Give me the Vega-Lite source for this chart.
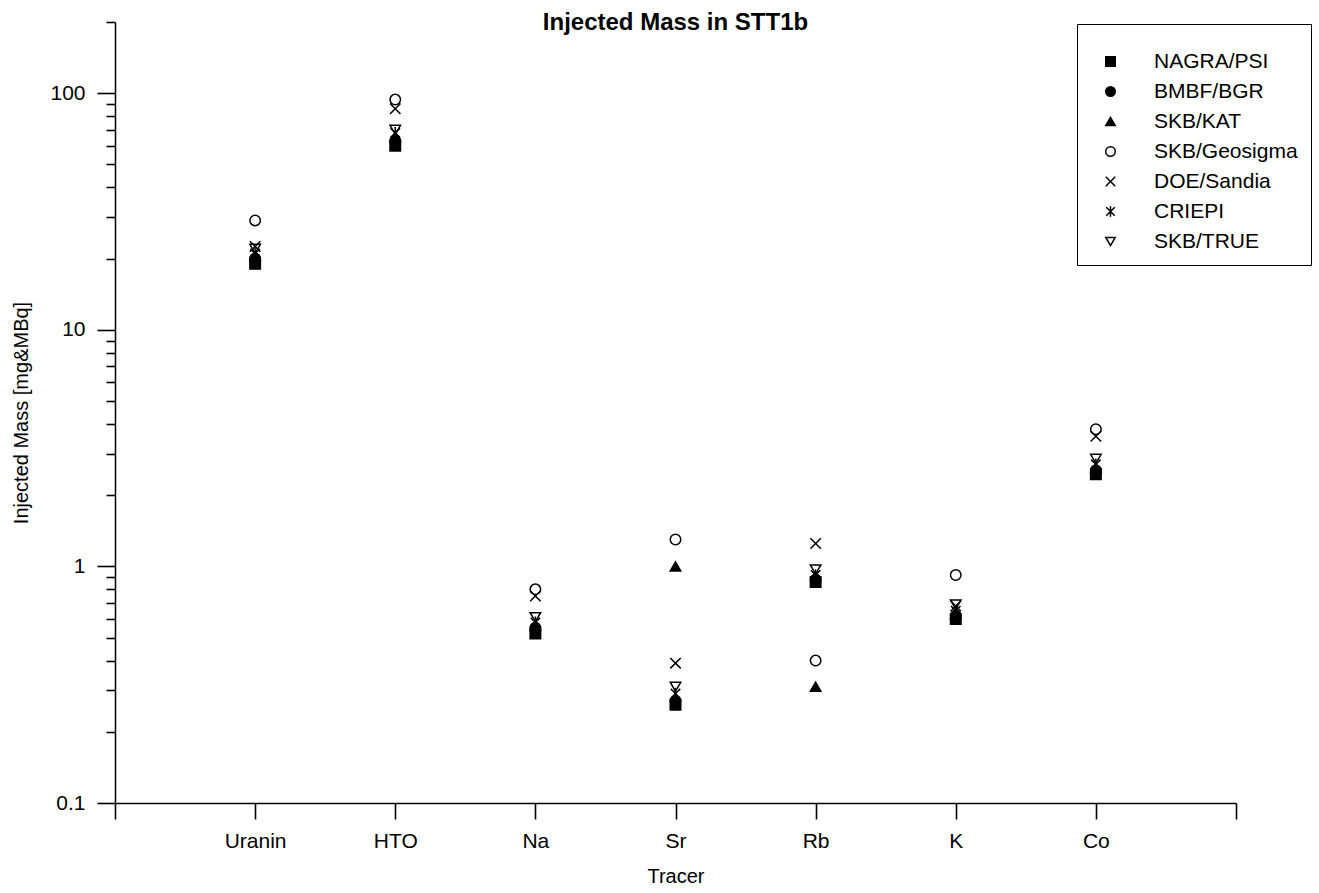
{
  "$schema": "https://vega.github.io/schema/vega-lite/v6.json",
  "width": 1121,
  "height": 781,
  "autosize": "none",
  "padding": {"left": 115, "top": 22, "right": 83, "bottom": 90},
  "background": "white",
  "config": {
    "view": {"stroke": null},
    "font": "Liberation Sans",
    "axis": {
      "domainColor": "black",
      "tickColor": "black",
      "labelColor": "black",
      "titleColor": "black",
      "grid": false,
      "domainWidth": 1.5,
      "tickWidth": 1.6,
      "labelFont": "Liberation Sans",
      "titleFont": "Liberation Sans",
      "titleFontWeight": "normal"
    },
    "legend": {
      "titleFontSize": 6,
      "titlePadding": 8,
      "titleColor": "white"
    }
  },
  "title": {
    "text": "Injected Mass in STT1b",
    "fontSize": 24,
    "fontWeight": "bold",
    "font": "Liberation Sans",
    "anchor": "middle",
    "offset": -24,
    "color": "black"
  },
  "data": {
    "values": [
      {"tracer": "Uranin", "group": "NAGRA/PSI", "mass": 19},
      {"tracer": "Uranin", "group": "BMBF/BGR", "mass": 20},
      {"tracer": "Uranin", "group": "SKB/KAT", "mass": 20.5},
      {"tracer": "Uranin", "group": "SKB/Geosigma", "mass": 29},
      {"tracer": "Uranin", "group": "DOE/Sandia", "mass": 22.5},
      {"tracer": "Uranin", "group": "CRIEPI", "mass": 21},
      {"tracer": "Uranin", "group": "SKB/TRUE", "mass": 22},
      {"tracer": "HTO", "group": "NAGRA/PSI", "mass": 60},
      {"tracer": "HTO", "group": "BMBF/BGR", "mass": 63},
      {"tracer": "HTO", "group": "SKB/KAT", "mass": 65},
      {"tracer": "HTO", "group": "SKB/Geosigma", "mass": 94},
      {"tracer": "HTO", "group": "DOE/Sandia", "mass": 86},
      {"tracer": "HTO", "group": "CRIEPI", "mass": 68},
      {"tracer": "HTO", "group": "SKB/TRUE", "mass": 70},
      {"tracer": "Na", "group": "NAGRA/PSI", "mass": 0.52},
      {"tracer": "Na", "group": "BMBF/BGR", "mass": 0.55},
      {"tracer": "Na", "group": "SKB/KAT", "mass": 0.56},
      {"tracer": "Na", "group": "SKB/Geosigma", "mass": 0.8},
      {"tracer": "Na", "group": "DOE/Sandia", "mass": 0.75},
      {"tracer": "Na", "group": "CRIEPI", "mass": 0.58},
      {"tracer": "Na", "group": "SKB/TRUE", "mass": 0.61},
      {"tracer": "Sr", "group": "NAGRA/PSI", "mass": 0.26},
      {"tracer": "Sr", "group": "BMBF/BGR", "mass": 0.27},
      {"tracer": "Sr", "group": "SKB/KAT", "mass": 1.0},
      {"tracer": "Sr", "group": "SKB/Geosigma", "mass": 1.3},
      {"tracer": "Sr", "group": "DOE/Sandia", "mass": 0.39},
      {"tracer": "Sr", "group": "CRIEPI", "mass": 0.29},
      {"tracer": "Sr", "group": "SKB/TRUE", "mass": 0.31},
      {"tracer": "Rb", "group": "NAGRA/PSI", "mass": 0.86},
      {"tracer": "Rb", "group": "BMBF/BGR", "mass": 0.88},
      {"tracer": "Rb", "group": "SKB/KAT", "mass": 0.31},
      {"tracer": "Rb", "group": "SKB/Geosigma", "mass": 0.4},
      {"tracer": "Rb", "group": "DOE/Sandia", "mass": 1.25},
      {"tracer": "Rb", "group": "CRIEPI", "mass": 0.92},
      {"tracer": "Rb", "group": "SKB/TRUE", "mass": 0.97},
      {"tracer": "K", "group": "NAGRA/PSI", "mass": 0.6},
      {"tracer": "K", "group": "BMBF/BGR", "mass": 0.62},
      {"tracer": "K", "group": "SKB/KAT", "mass": 0.63},
      {"tracer": "K", "group": "SKB/Geosigma", "mass": 0.92},
      {"tracer": "K", "group": "DOE/Sandia", "mass": 0.68},
      {"tracer": "K", "group": "CRIEPI", "mass": 0.65},
      {"tracer": "K", "group": "SKB/TRUE", "mass": 0.69},
      {"tracer": "Co", "group": "NAGRA/PSI", "mass": 2.45},
      {"tracer": "Co", "group": "BMBF/BGR", "mass": 2.55},
      {"tracer": "Co", "group": "SKB/KAT", "mass": 2.6},
      {"tracer": "Co", "group": "SKB/Geosigma", "mass": 3.8},
      {"tracer": "Co", "group": "DOE/Sandia", "mass": 3.55},
      {"tracer": "Co", "group": "CRIEPI", "mass": 2.7},
      {"tracer": "Co", "group": "SKB/TRUE", "mass": 2.85}
    ]
  },
  "mark": {"type": "point", "size": 110, "strokeWidth": 1.5, "opacity": 1},
  "encoding": {
    "x": {
      "field": "tracer",
      "type": "ordinal",
      "scale": {"type": "point", "domain": [" ", "Uranin", "HTO", "Na", "Sr", "Rb", "K", "Co", "  "], "padding": 0},
      "axis": {
        "title": "Tracer",
        "labelAngle": 0,
        "tickSize": 16,
        "labelFontSize": 21,
        "titleFontSize": 20,
        "labelPadding": 11,
        "titlePadding": 15
      }
    },
    "y": {
      "field": "mass",
      "type": "quantitative",
      "scale": {"type": "log", "domain": [0.1, 200], "nice": false},
      "axis": {
        "title": "Injected Mass [mg&MBq]",
        "values": [0.1, 0.2, 0.3, 0.4, 0.5, 0.6, 0.7, 0.8, 0.9, 1, 2, 3, 4, 5, 6, 7, 8, 9, 10, 20, 30, 40, 50, 60, 70, 80, 90, 100, 200],
        "labelExpr": "abs(log(datum.value)/LN10 - round(log(datum.value)/LN10)) < 0.000001 ? format(datum.value, '~g') : ''",
        "tickSize": {"condition": {"test": "abs(log(datum.value)/LN10 - round(log(datum.value)/LN10)) < 0.000001", "value": 18}, "value": 9},
        "labelOverlap": false,
        "labelFontSize": 21,
        "titleFontSize": 20,
        "labelPadding": 12,
        "titlePadding": 18
      }
    },
    "shape": {
      "field": "group",
      "type": "nominal",
      "title": " ",
      "scale": {
        "domain": ["NAGRA/PSI", "BMBF/BGR", "SKB/KAT", "SKB/Geosigma", "DOE/Sandia", "CRIEPI", "SKB/TRUE"],
        "range": ["square", "circle", "triangle-up", "circle", "M-1,-1L1,1M-1,1L1,-1", "M-0.9,-0.9L0.9,0.9M-0.9,0.9L0.9,-0.9M0,-1.1L0,1.1", "triangle-down"]
      },
      "legend": {
        "orient": "none",
        "legendX": 962,
        "legendY": 2,
        "strokeColor": "black",
        "padding": 13,
        "labelFontSize": 21,
        "labelColor": "black",
        "symbolOffset": 10,
        "labelOffset": 33,
        "rowPadding": 8,
        "symbolSize": 90,
        "symbolStrokeWidth": 1.5,
        "fillColor": "white"
      }
    },
    "fill": {
      "field": "group",
      "type": "nominal",
      "title": " ",
      "scale": {
        "domain": ["NAGRA/PSI", "BMBF/BGR", "SKB/KAT", "SKB/Geosigma", "DOE/Sandia", "CRIEPI", "SKB/TRUE"],
        "range": ["black", "black", "black", "transparent", "transparent", "transparent", "transparent"]
      },
      "legend": {
        "orient": "none",
        "legendX": 962,
        "legendY": 2,
        "strokeColor": "black",
        "padding": 13,
        "labelFontSize": 21,
        "labelColor": "black",
        "symbolOffset": 10,
        "labelOffset": 33,
        "rowPadding": 8,
        "symbolSize": 90,
        "symbolStrokeWidth": 1.5,
        "fillColor": "white"
      }
    },
    "stroke": {
      "field": "group",
      "type": "nominal",
      "title": " ",
      "scale": {
        "domain": ["NAGRA/PSI", "BMBF/BGR", "SKB/KAT", "SKB/Geosigma", "DOE/Sandia", "CRIEPI", "SKB/TRUE"],
        "range": ["black", "black", "black", "black", "black", "black", "black"]
      },
      "legend": {
        "orient": "none",
        "legendX": 962,
        "legendY": 2,
        "strokeColor": "black",
        "padding": 13,
        "labelFontSize": 21,
        "labelColor": "black",
        "symbolOffset": 10,
        "labelOffset": 33,
        "rowPadding": 8,
        "symbolSize": 90,
        "symbolStrokeWidth": 1.5,
        "fillColor": "white"
      }
    }
  }
}
